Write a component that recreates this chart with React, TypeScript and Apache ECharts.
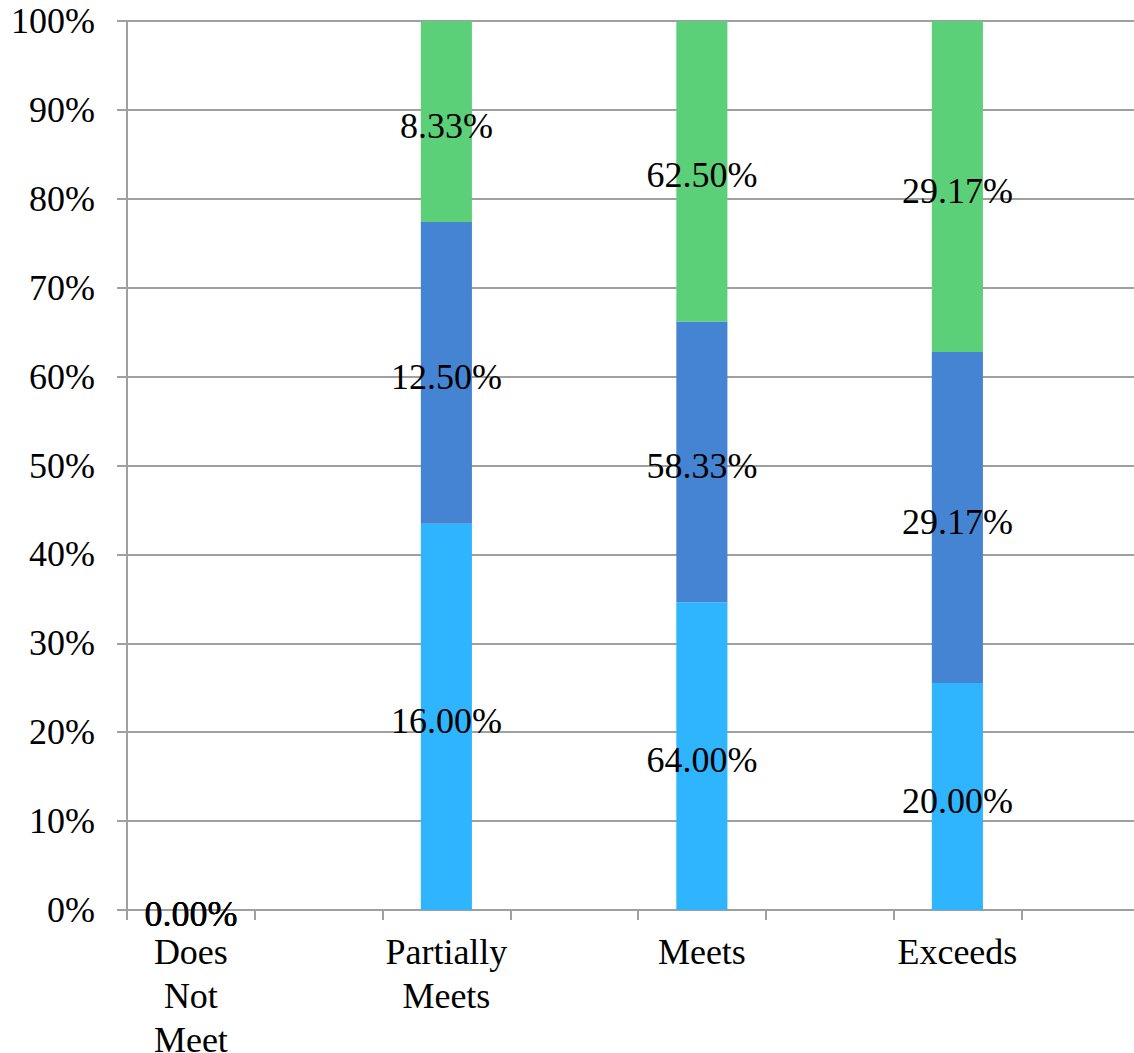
import React, { useEffect, useRef } from "react";
import * as echarts from "echarts";

// Category slots (the original chart leaves an empty slot after each category)
const categories = ["Does\nNot\nMeet", "", "Partially\nMeets", "", "Meets", "", "Exceeds", ""];
// Raw values shown in the data labels (percent), null = empty slot
const seriesA = [0, null, 16.0, null, 64.0, null, 20.0, null];
const seriesB = [0, null, 12.5, null, 58.33, null, 29.17, null];
const seriesC = [0, null, 8.33, null, 62.5, null, 29.17, null];
const yTicks = [0, 10, 20, 30, 40, 50, 60, 70, 80, 90, 100];

const colors = ["#2fb4fe", "#4584d3", "#5ccf79"];
const FONT = "Liberation Serif";

export default function App() {
  const ref = useRef<HTMLDivElement>(null);
  useEffect(() => {
    if (!ref.current) return;
    const chart = echarts.init(ref.current, null, { renderer: "svg" });
    const raw = [seriesA, seriesB, seriesC];
    const totals = categories.map((_, i) =>
      raw.reduce((s, arr) => s + (arr[i] ?? 0), 0)
    );
    const series = raw.map((arr, si) => ({
      type: "bar",
      name: "Series " + (si + 1),
      stack: "total",
      barWidth: "40%",
      itemStyle: { color: colors[si] },
      label: {
        show: true,
        position: "inside",
        fontFamily: FONT,
        fontSize: 36,
        color: "#000",
        offset: [0, 4],
        formatter: (p: any) => (p.data.raw as number).toFixed(2) + "%",
      },
      data: arr.map((v, i) =>
        v === null
          ? { value: "-", raw: 0, label: { show: false } }
          : { value: totals[i] > 0 ? (v / totals[i]) * 100 : 0, raw: v }
      ),
    }));
    chart.setOption({
      animation: false,
      textStyle: { fontFamily: FONT },
      grid: { left: 127, right: -15, top: 21, bottom: 143, containLabel: false, outerBoundsMode: "none" },
      xAxis: {
        type: "category",
        data: categories,
        boundaryGap: true,
        axisLine: { show: true, lineStyle: { color: "#a0a0a0", width: 2 } },
        axisTick: { show: true, length: 10, interval: 0, alignWithLabel: false, lineStyle: { color: "#a0a0a0", width: 2 } },
        axisLabel: {
          interval: 0,
          margin: 20,
          fontFamily: FONT,
          fontSize: 36,
          color: "#000",
          lineHeight: 44,
        },
      },
      yAxis: {
        type: "value",
        min: yTicks[0],
        max: yTicks[yTicks.length - 1],
        interval: 10,
        axisLine: { show: true, lineStyle: { color: "#a0a0a0", width: 2 } },
        axisTick: { show: true, length: 10, lineStyle: { color: "#a0a0a0", width: 2 } },
        splitLine: { show: true, lineStyle: { color: "#a0a0a0", width: 2 } },
        axisLabel: {
          margin: 32,
          fontFamily: FONT,
          fontSize: 36,
          color: "#000",
          formatter: "{value}%",
        },
      },
      series,
    });
    return () => chart.dispose();
  }, []);
  return (
    <div
      ref={ref}
      style={{ position: "absolute", left: 0, top: 0, width: 1134, height: 1053, background: "#fff" }}
    />
  );
}
